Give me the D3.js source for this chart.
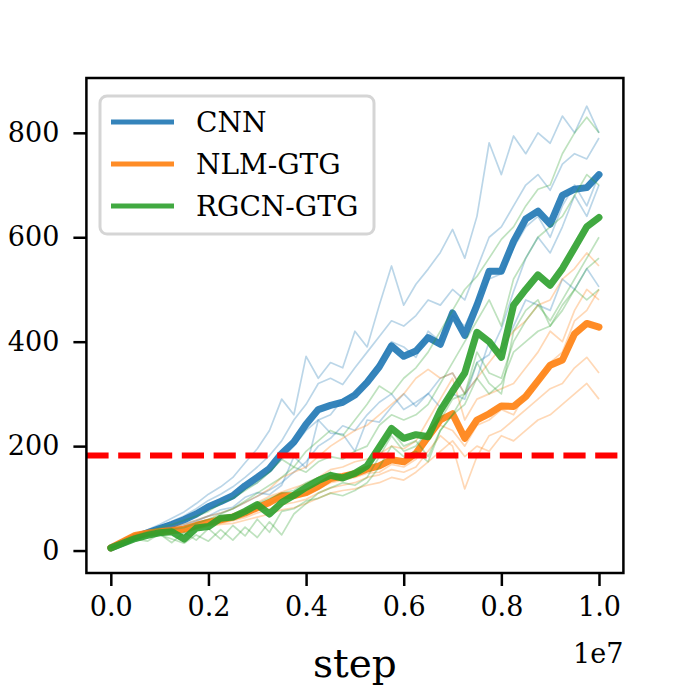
<!DOCTYPE html>
<html>
<head>
<meta charset="utf-8">
<script src="https://cdn.jsdelivr.net/npm/d3@7/dist/d3.min.js"></script>
<style>
  body { margin: 0; background: #fff; }
  text { font-family: "DejaVu Serif", serif; fill: #000; }
</style>
</head>
<body>
<div id="chart"></div>
<script>
// step positions, in millions of steps
const steps = [0,0.25,0.5,0.75,1,1.25,1.5,1.75,2,2.25,2.5,2.75,3,3.25,3.5,3.75,4,4.25,4.5,4.75,5,
               5.25,5.5,5.75,6,6.25,6.5,6.75,7,7.25,7.5,7.75,8,8.25,8.5,8.75,9,9.25,9.5,9.75,10];

const labels = ['CNN', 'NLM-GTG', 'RGCN-GTG'];
const colors = ['#1f77b4', '#ff7f0e', '#2ca02c'];

// mean curves
const cnnMean  = [5,15,26,34,42,50,59,70,84,94,105,124,140,157,186,208,242,270,278,284,298,322,352,392,372,382,408,395,455,412,470,535,535,592,635,650,625,680,692,695,720];
const nlmMean  = [5,17,29,33,36,38,41,48,54,59,64,72,82,92,105,105,111,123,138,142,147,156,162,174,170,186,218,250,262,215,250,262,277,276,295,325,355,365,415,435,428];
const rgcnMean = [5,14,23,29,34,36,22,43,46,62,64,75,88,70,92,106,121,134,144,139,148,162,198,234,215,222,218,268,305,340,418,400,370,470,500,528,508,540,580,620,638];

// individual seeds
const cnnRuns = [
  [5,18,30,40,50,62,74,90,108,122,140,168,195,230,290,260,372,330,360,350,420,390,470,545,470,510,539,571,615,560,640,781,720,794,760,800,780,832,800,851,800],
  [5,16,28,37,46,56,66,80,96,108,122,140,160,182,210,250,280,320,330,318,350,380,410,440,430,450,480,470,500,480,540,600,620,660,700,720,690,740,760,750,790],
  [5,15,26,33,41,48,56,66,80,90,100,118,130,150,175,200,230,250,260,290,300,330,360,400,390,370,420,400,450,430,480,520,530,580,620,640,600,660,700,660,720],
  [5,14,24,30,37,44,51,58,66,78,83,102,111,107,125,180,158,250,225,223,190,250,246,275,300,276,301,274,300,290,360,375,425,496,560,600,570,620,680,640,700],
  [5,12,22,30,36,40,48,56,66,72,80,92,104,116,130,150,170,200,215,239,230,260,284,300,270,284,300,330,340,300,330,400,380,430,480,470,460,520,500,540,505]
];
const nlmRuns = [
  [5,19,32,38,42,45,50,58,66,72,80,92,104,118,140,150,160,180,200,215,230,240,260,280,300,330,347,330,340,300,330,360,390,420,440,470,480,520,540,570,545],
  [5,18,30,35,39,42,46,54,60,66,70,80,92,104,112,120,128,140,155,160,170,175,185,200,195,210,250,290,330,250,290,300,310,320,350,380,420,400,460,500,480],
  [5,17,28,32,35,37,40,45,50,55,62,70,80,90,104,100,108,118,130,135,140,148,150,165,160,175,210,240,230,200,240,250,270,260,300,320,360,380,440,460,500],
  [5,15,26,30,33,34,36,42,48,52,57,63,72,80,88,92,98,110,120,125,130,140,145,155,150,160,190,220,200,118,180,220,230,250,270,290,310,320,350,370,340],
  [5,16,28,31,33,33,35,41,46,50,52,58,64,70,78,82,90,100,110,115,118,125,130,140,135,150,170,190,210,180,200,190,220,210,230,250,260,280,300,320,290]
];
const rgcnRuns = [
  [5,16,28,36,44,50,58,66,75,90,100,115,130,150,175,160,190,210,230,220,250,280,315,300,330,350,380,420,460,500,525,560,596,620,660,692,700,760,800,830,800],
  [5,14,24,30,36,40,44,52,60,70,80,95,110,125,140,160,150,170,180,175,190,200,240,260,250,260,280,320,360,400,440,480,430,520,560,600,620,640,680,720,700],
  [5,12,20,26,30,22,14,30,18,40,20,45,25,55,30,70,90,110,120,130,125,140,180,220,190,200,230,250,290,300,380,340,330,400,440,470,440,480,520,560,600],
  [5,13,22,18,32,15,35,20,42,22,48,28,60,35,75,80,95,100,110,105,115,130,160,200,180,190,170,230,260,300,360,320,300,420,460,480,430,470,500,540,560],
  [5,14,22,28,33,38,30,44,50,60,68,75,90,100,110,115,130,140,150,135,145,160,190,230,200,210,180,230,260,280,330,300,320,380,400,420,430,460,500,480,500]
];

const threshold = 182;
const xTicks = [0, 2e6, 4e6, 6e6, 8e6, 1e7];
const yTicks = [0, 200, 400, 600, 800];

const W = 690, H = 690;
const m = { left: 86.4, right: 623.4, top: 78, bottom: 573 };

const svg = d3.select('#chart').append('svg')
    .attr('width', W).attr('height', H);

const x = d3.scaleLinear().domain([-0.05e7, 1.05e7]).range([m.left, m.right]);
const y = d3.scaleLinear().domain([-43, 905]).range([m.bottom, m.top]);

svg.append('clipPath').attr('id', 'clip')
  .append('rect').attr('x', m.left).attr('y', m.top)
  .attr('width', m.right - m.left).attr('height', m.bottom - m.top);

const line = d3.line()
    .x((d, i) => x(steps[i] * 1e6))
    .y(d => y(d));

const plot = svg.append('g').attr('clip-path', 'url(#clip)');

const groups = [
  { runs: cnnRuns, mean: cnnMean },
  { runs: nlmRuns, mean: nlmMean },
  { runs: rgcnRuns, mean: rgcnMean }
];

groups.forEach((g, k) => {
  plot.append('g')
    .selectAll('path')
    .data(g.runs)
    .enter()
    .append('path')
    .attr('d', line)
    .attr('fill', 'none')
    .attr('stroke', colors[k])
    .attr('stroke-width', 1.7)
    .attr('stroke-opacity', 0.3)
    .attr('stroke-linejoin', 'round');

  plot.append('path')
    .datum(g.mean)
    .attr('d', line)
    .attr('fill', 'none')
    .attr('stroke', colors[k])
    .attr('stroke-width', 7)
    .attr('stroke-opacity', 0.9)
    .attr('stroke-linejoin', 'round')
    .attr('stroke-linecap', 'round');
});

// threshold
plot.append('line')
  .attr('x1', m.left).attr('x2', m.right)
  .attr('y1', y(threshold)).attr('y2', y(threshold))
  .attr('stroke', '#ff0000')
  .attr('stroke-width', 6)
  .attr('stroke-dasharray', '22.2,9.6');

// axes
const xAxis = svg.append('g')
  .attr('transform', `translate(0,${m.bottom})`)
  .call(d3.axisBottom(x).tickValues(xTicks).tickSize(13).tickPadding(11)
        .tickFormat(d => (d / 1e7).toFixed(1)));
const yAxis = svg.append('g')
  .attr('transform', `translate(${m.left},0)`)
  .call(d3.axisLeft(y).tickValues(yTicks).tickSize(13).tickPadding(14));

[xAxis, yAxis].forEach(a => {
  a.select('.domain').remove();
  a.selectAll('.tick line').attr('stroke', '#000').attr('stroke-width', 2.5);
  a.selectAll('.tick text').attr('font-size', 27).attr('font-family', 'DejaVu Serif');
});

// frame
svg.append('rect')
  .attr('x', m.left).attr('y', m.top)
  .attr('width', m.right - m.left).attr('height', m.bottom - m.top)
  .attr('fill', 'none').attr('stroke', '#000').attr('stroke-width', 2.5);

svg.append('text')
  .attr('x', m.right).attr('y', 663)
  .attr('text-anchor', 'end')
  .attr('font-size', 27)
  .text('1e7');

svg.append('text')
  .attr('x', (m.left + m.right) / 2).attr('y', 677)
  .attr('text-anchor', 'middle')
  .attr('font-size', 39)
  .text('step');

// legend
const legend = svg.append('g');
legend.append('rect')
  .attr('x', 100).attr('y', 96)
  .attr('width', 274).attr('height', 138)
  .attr('rx', 7).attr('ry', 7)
  .attr('fill', '#fff').attr('fill-opacity', 0.8)
  .attr('stroke', '#d5d5d5').attr('stroke-width', 3);

const item = legend.selectAll('g.item')
  .data(labels)
  .enter()
  .append('g')
  .attr('transform', (d, i) => `translate(0,${122 + i * 42})`);

item.append('line')
  .attr('x1', 111).attr('x2', 174)
  .attr('stroke', (d, i) => colors[i])
  .attr('stroke-width', 5)
  .attr('stroke-opacity', 0.9);

item.append('text')
  .attr('x', 196)
  .attr('dy', '0.36em')
  .attr('font-size', 28)
  .text(d => d);
</script>
</body>
</html>
